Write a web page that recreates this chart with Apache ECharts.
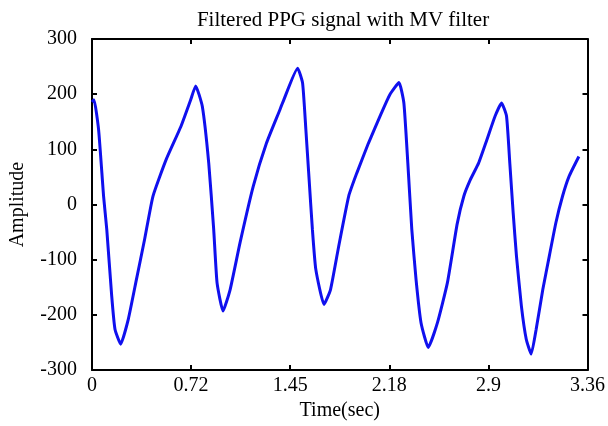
<!DOCTYPE html>
<html>
<head>
<meta charset="utf-8">
<script src="https://cdn.jsdelivr.net/npm/echarts@6/dist/echarts.min.js"></script>
<style>html,body{margin:0;padding:0;background:#fff;}#c{width:608px;height:426px;}</style>
</head>
<body>
<div id="c"></div>
<script>
// x positions in tick-index units (axis ticks evenly spaced, labelled with xTickLabels)
var xTickLabels = ['0', '0.72', '1.45', '2.18', '2.9', '3.36'];
var yTicks = [-300, -200, -100, 0, 100, 200, 300];
var timePos = [0, 0.02, 0.067, 0.117, 0.149, 0.199, 0.232, 0.289, 0.366, 0.448, 0.531, 0.615, 0.747, 0.896, 0.996, 1.046,
  1.113, 1.178, 1.228, 1.262, 1.322, 1.394, 1.494, 1.627, 1.760, 1.892, 1.925, 2.075,
  2.125, 2.158, 2.191, 2.224, 2.258, 2.341, 2.407, 2.490, 2.590, 2.672, 2.789, 2.921, 3.005, 3.098,
  3.147, 3.187, 3.227, 3.270, 3.320, 3.393, 3.486, 3.586, 3.685, 3.752, 3.818, 3.901, 3.984, 4.067, 4.133,
  4.183, 4.216, 4.250, 4.283, 4.333, 4.382, 4.432, 4.482, 4.549, 4.615, 4.681, 4.748, 4.814, 4.913];
var amplitude = [186, 190, 135, 15, -45, -166, -226, -253, -208, -136, -63, 15, 81, 141, 190, 215,
  178, 75, -45, -142, -193, -154, -69, 33, 111, 170, 185, 247,
  220, 136, 45, -45, -117, -181, -154, -75, 15, 57, 111, 166, 199, 221,
  184, 75, -45, -136, -214, -259, -214, -142, -35, 15, 45, 75, 117, 160, 184,
  160, 75, -15, -93, -184, -244, -271, -226, -154, -93, -33, 15, 51, 87];

var series = timePos.map(function (t, i) { return [t, amplitude[i]]; });
var font = 'Liberation Serif';
var chart = echarts.init(document.getElementById('c'), null, {renderer: 'canvas'});
chart.setOption({
  animation: false,
  title: {
    text: 'Filtered PPG signal with MV filter',
    left: 338, top: 5, textAlign: 'center',
    textStyle: {fontFamily: font, fontSize: 21, fontWeight: 'normal', color: '#000'}
  },
  grid: {left: 90, right: 16, top: 39, bottom: 55, show: false},
  xAxis: [{
    type: 'value', min: 0, max: 5, interval: 1, position: 'bottom',
    name: 'Time(sec)', nameLocation: 'middle', nameGap: 27,
    nameTextStyle: {fontFamily: font, fontSize: 20, color: '#000'},
    axisLine: {show: true, onZero: false, lineStyle: {color: '#000', width: 2}},
    axisTick: {show: true, inside: true, length: 5, lineStyle: {color: '#000', width: 2}},
    axisLabel: {fontFamily: font, fontSize: 20, color: '#000', margin: 6,
      formatter: function (v) { return xTickLabels[Math.round(v)]; }},
    splitLine: {show: false}
  }, {
    type: 'value', min: 0, max: 5, interval: 1, position: 'top',
    axisLine: {show: true, onZero: false, lineStyle: {color: '#000', width: 2}},
    axisTick: {show: true, inside: true, length: 5, lineStyle: {color: '#000', width: 2}},
    axisLabel: {show: false}, splitLine: {show: false}
  }],
  yAxis: [{
    type: 'value', min: yTicks[0], max: yTicks[yTicks.length - 1], interval: 100, position: 'left',
    name: 'Amplitude', nameLocation: 'middle', nameGap: 64, nameRotate: 90,
    nameTextStyle: {fontFamily: font, fontSize: 20, color: '#000'},
    axisLine: {show: true, onZero: false, lineStyle: {color: '#000', width: 2}},
    axisTick: {show: true, inside: true, length: 5, lineStyle: {color: '#000', width: 2}},
    axisLabel: {fontFamily: font, fontSize: 20, color: '#000', margin: 15},
    splitLine: {show: false}
  }, {
    type: 'value', min: yTicks[0], max: yTicks[yTicks.length - 1], interval: 100, position: 'right',
    axisLine: {show: true, onZero: false, lineStyle: {color: '#000', width: 2}},
    axisTick: {show: true, inside: true, length: 5, lineStyle: {color: '#000', width: 2}},
    axisLabel: {show: false}, splitLine: {show: false}
  }],
  series: [{
    type: 'line', data: series, xAxisIndex: 0, yAxisIndex: 0,
    showSymbol: false, smooth: 0.15,
    lineStyle: {color: '#1010ee', width: 3}
  }]
});
</script>
</body>
</html>
